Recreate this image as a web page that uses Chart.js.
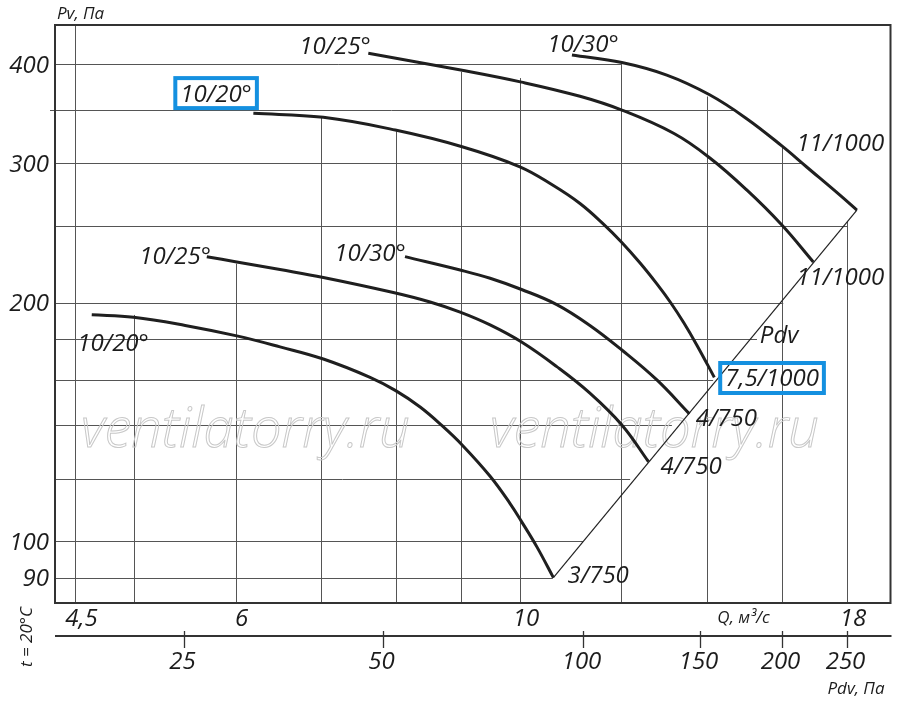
<!DOCTYPE html>
<html>
<head>
<meta charset="utf-8">
<script src="https://cdn.jsdelivr.net/npm/chart.js@4.4.1/dist/chart.umd.min.js"></script>
<style>
html,body{margin:0;padding:0;background:#fff;}
#wrap{width:900px;height:703px;position:relative;}
</style>
</head>
<body>
<div id="wrap"><canvas id="c"></canvas></div>
<script>
// ---------- tick labels ----------
const qTicks = [4.5, 6, 10, 18];
const qTickLabels = ['4,5', '6', '10', '18'];
const pvTicks = [90, 100, 200, 300, 400];
const pvTickLabels = ['90', '100', '200', '300', '400'];
const pdvTicks = [25, 50, 100, 150, 200, 250];
const pdvTickLabels = ['25', '50', '100', '150', '200', '250'];

// ---------- grid (values and where each grid line stops) ----------
const qGrid    = [4.5, 5, 6, 7, 8, 9, 10, 12, 14, 16, 18];
const qGridTop = [null, 193, 224, 343, 329, 391, 384, 401, 364, 316, 253];
const pvGrid    = [90, 100, 120, 140, 160, 180, 200, 250, 300, 350, 400];
const pvGridEnd = [10.61, 11.2, 12.19, 13.14, 14.15, 15.31, 16.05, 18.0, 16.63, 14.67, 12.0];

// ---------- fan curves: Q (m3/s) and Pv (Pa) ----------
const q_3_750   = [4.634, 4.995, 5.481, 6.013, 6.499, 7.025, 7.64, 8.0, 8.359, 8.691, 9.014, 9.479, 9.825, 10.03, 10.31, 10.62];
const pv_3_750  = [193.1, 191.7, 187.2, 181.6, 175.9, 169.8, 161.0, 154.9, 147.7, 140.0, 132.3, 120.8, 111.6, 105.9, 98.4, 90.0];

const q_4_750a  = [5.698, 6.013, 6.499, 7.025, 7.966, 8.51, 8.982, 9.479, 10.03, 10.685, 11.34, 12.01, 12.6];
const pv_4_750a = [228.6, 225.1, 220.2, 215.2, 206.0, 200.4, 194.6, 187.5, 178.4, 166.1, 153.8, 140.2, 126.0];

const q_4_750b  = [8.135, 8.982, 9.479, 10.03, 10.685, 11.34, 12.01, 12.79, 13.56];
const pv_4_750b = [228.6, 219.9, 214.7, 207.8, 198.9, 187.2, 174.3, 159.8, 144.8];

const q_75_1000  = [6.195, 7.025, 7.994, 9.014, 10.0, 10.62, 11.14, 11.62, 12.01, 12.41, 12.79, 13.1, 13.42, 13.74, 14.18];
const pv_75_1000 = [346.6, 342.6, 330.2, 314.6, 296.8, 281.1, 266.8, 251.3, 238.2, 224.4, 211.2, 200.4, 188.8, 176.9, 161.0];

const q_11_1000a  = [7.616, 9.014, 10.03, 11.14, 12.01, 13.18, 14.06, 15.03, 16.01, 16.94];
const pv_11_1000a = [412.6, 392.8, 379.5, 364.2, 349.9, 327.1, 304.7, 277.5, 250.6, 225.1];

const q_11_1000b  = [10.98, 12.01, 13.02, 14.06, 15.03, 16.01, 16.74, 17.78, 18.32];
const pv_11_1000b = [410.6, 401.7, 387.3, 365.8, 341.3, 315.3, 296.6, 273.1, 261.7];

const q_pdv  = [10.62, 18.32];
const pv_pdv = [90, 261.7];

// ---------- curve labels (anchored in data units) ----------
const labelTexts = ['10/25°', '10/30°', '10/20°', '11/1000', '11/1000', 'Pdv', '7,5/1000', '4/750', '4/750', '3/750', '10/25°', '10/30°', '10/20°'];
const labelQ     = [7.175, 11.2, 5.794, 17.78, 17.78, 15.93, 15.73, 14.49, 13.6, 11.51, 5.383, 7.64, 4.815];
const labelPv    = [422.6, 425.1, 367.6, 318.9, 215.5, 182.1, 160.7, 143.1, 124.5, 90.7, 229.7, 231.1, 178.4];
const labelBoxed = [false, false, true, false, false, false, true, false, false, false, false, false, false];

// ---------- styling ----------
const FONT = '"Open Sans", "DejaVu Sans", sans-serif';
const INK = '#1c1c1c';
const GRID = '#555555';
const BLUE = '#1490e0';

function pts(q, pv) { return q.map((v, i) => ({ x: v, y: pv[i] })); }
function curve(q, pv) {
  return {
    data: pts(q, pv), showLine: true, pointRadius: 0, borderWidth: 3,
    borderColor: '#1f1f1f', tension: 0.4, fill: false
  };
}

const drawPlugin = {
  id: 'drawPlugin',
  beforeDraw(chart) {
    const ctx = chart.ctx;
    ctx.save();
    ctx.fillStyle = '#ffffff';
    ctx.fillRect(0, 0, chart.width, chart.height);
    ctx.restore();
  },
  beforeDatasetsDraw(chart) {
    const ctx = chart.ctx, xs = chart.scales.x, ys = chart.scales.y, ca = chart.chartArea;
    ctx.save();
    ctx.strokeStyle = GRID;
    ctx.lineWidth = 1;
    qGrid.forEach((q, i) => {
      const x = Math.round(xs.getPixelForValue(q)) + 0.5;
      const top = qGridTop[i] == null ? ca.top : ys.getPixelForValue(qGridTop[i]);
      ctx.beginPath(); ctx.moveTo(x, ca.bottom); ctx.lineTo(x, top); ctx.stroke();
    });
    pvGrid.forEach((p, i) => {
      const y = Math.round(ys.getPixelForValue(p)) + 0.5;
      const x1 = xs.getPixelForValue(pvGridEnd[i]);
      const x0 = (p === 350) ? ca.left - 5 : ca.left;
      ctx.beginPath(); ctx.moveTo(x0, y); ctx.lineTo(x1, y); ctx.stroke();
    });
    // watermark
    ctx.font = 'italic 300 54px ' + FONT;
    const wm = 'ventilatorry.ru';
    const w = ctx.measureText(wm).width;
    const size = 54 * 329 / w;
    ctx.font = 'italic 300 ' + size.toFixed(1) + 'px ' + FONT;
    ctx.strokeStyle = '#c8c8c8';
    ctx.lineWidth = 1;
    ctx.textBaseline = 'alphabetic';
    ctx.textAlign = 'left';
    ctx.strokeText(wm, ca.left + 26, ca.top + 422);
    ctx.strokeText(wm, ca.left + 435, ca.top + 422);
    ctx.restore();
  },
  afterDatasetsDraw(chart) {
    const ctx = chart.ctx, xs = chart.scales.x, ys = chart.scales.y, xp = chart.scales.xp, ca = chart.chartArea;
    ctx.save();
    // frame
    ctx.strokeStyle = '#333333';
    ctx.lineWidth = 2;
    ctx.strokeRect(ca.left, ca.top, ca.right - ca.left, ca.bottom - ca.top);

    ctx.fillStyle = INK;
    ctx.textBaseline = 'alphabetic';
    // Y tick labels
    ctx.font = 'italic 24px ' + FONT;
    ctx.textAlign = 'right';
    pvTicks.forEach((p, i) => {
      ctx.fillText(pvTickLabels[i], ca.left - 6, ys.getPixelForValue(p) + 8.5);
    });
    // Q tick labels
    ctx.textAlign = 'center';
    qTicks.forEach((q, i) => {
      ctx.fillText(qTickLabels[i], xs.getPixelForValue(q) + 6, ca.bottom + 22.5);
    });
    // Pdv axis
    const yAx = ca.bottom + 33;
    ctx.strokeStyle = '#333333';
    ctx.lineWidth = 2;
    ctx.beginPath(); ctx.moveTo(ca.left, yAx); ctx.lineTo(ca.right + 1, yAx); ctx.stroke();
    ctx.lineWidth = 1.3;
    pdvTicks.forEach((v, i) => {
      const x = Math.round(xp.getPixelForValue(v)) + 0.5;
      ctx.beginPath(); ctx.moveTo(x, yAx - 5); ctx.lineTo(x, yAx + 12); ctx.stroke();
      ctx.fillText(pdvTickLabels[i], x - 2, yAx + 32.5);
    });

    // axis titles
    ctx.font = 'italic 17px ' + FONT;
    ctx.textAlign = 'left';
    ctx.fillText('Pv, Па', ca.left + 2, ca.top - 6);
    ctx.textAlign = 'center';
    ctx.fillText('Q, м³/с', ca.right - 147, ca.bottom + 20);
    ctx.textAlign = 'right';
    ctx.fillText('Pdv, Па', ca.right - 6, ca.bottom + 91);
    ctx.save();
    ctx.translate(27, ca.bottom + 34);
    ctx.rotate(-Math.PI / 2);
    ctx.textAlign = 'center';
    ctx.textBaseline = 'middle';
    ctx.fillText('t = 20°C', 0, 0);
    ctx.restore();

    // curve labels
    ctx.font = 'italic 24px ' + FONT;
    ctx.textAlign = 'center';
    ctx.textBaseline = 'alphabetic';
    labelTexts.forEach((t, i) => {
      const x = xs.getPixelForValue(labelQ[i]);
      const y = ys.getPixelForValue(labelPv[i]);
      ctx.fillStyle = INK;
      ctx.fillText(t, x, y + 8.5);
      if (labelBoxed[i]) {
        const w = ctx.measureText(t).width;
        ctx.strokeStyle = BLUE;
        ctx.lineWidth = 4;
        ctx.strokeRect(x - w / 2 - 5, y - 15, w + 10, 30);
      }
    });
    ctx.restore();
  }
};

new Chart(document.getElementById('c'), {
  type: 'scatter',
  data: {
    datasets: [
      curve(q_3_750, pv_3_750),
      curve(q_4_750a, pv_4_750a),
      curve(q_4_750b, pv_4_750b),
      curve(q_75_1000, pv_75_1000),
      curve(q_11_1000a, pv_11_1000a),
      curve(q_11_1000b, pv_11_1000b),
      { data: pts(q_pdv, pv_pdv), showLine: true, pointRadius: 0, borderWidth: 1.2, borderColor: '#222222', tension: 0, fill: false }
    ]
  },
  options: {
    responsive: true,
    maintainAspectRatio: false,
    animation: false,
    events: [],
    layout: { padding: { left: 55, right: 9.5, top: 25, bottom: 100 } },
    plugins: { legend: { display: false }, tooltip: { enabled: false } },
    scales: {
      x: { type: 'logarithmic', min: 4.338, max: 19.46, bounds: 'data', display: false },
      y: { type: 'logarithmic', min: 83.6, max: 448, bounds: 'data', display: false },
      xp: { type: 'logarithmic', axis: 'x', position: 'bottom', min: 16.0, max: 291.1, bounds: 'data', display: false }
    }
  },
  plugins: [drawPlugin]
});
</script>
</body>
</html>
